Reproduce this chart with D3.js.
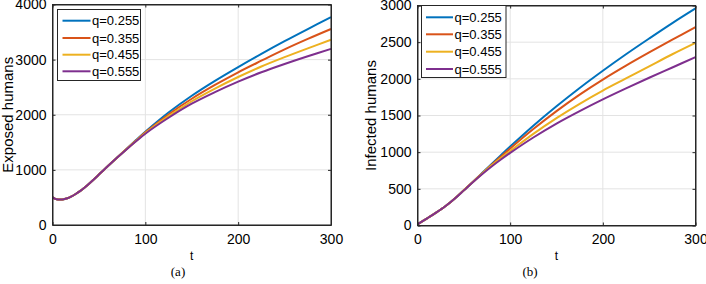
<!DOCTYPE html>
<html><head><meta charset="utf-8">
<script src="https://cdn.jsdelivr.net/npm/d3@7"></script>
<style>body{margin:0;background:#fff}svg{display:block}</style>
</head><body>
<svg id="c" width="706" height="284"></svg>
<script>
// ---- data ----
const seriesLabels = ["q=0.255", "q=0.355", "q=0.455", "q=0.555"];
const colors = ["#0072BD", "#D95319", "#EDB120", "#7E2F8E"];

const tExposed = [0, 3, 6, 9, 12, 16, 20, 25, 30, 35, 40, 45, 50, 55, 60, 70, 80, 90, 100, 125, 150, 175, 200, 225, 250, 275, 300];
const exposedQ255 = [500, 474, 463, 462, 468, 486, 515, 562, 618, 684, 757, 835, 915, 995, 1073, 1228, 1385, 1540, 1692, 2040, 2345, 2615, 2865, 3105, 3335, 3555, 3770];
const exposedQ355 = [500, 474, 463, 462, 468, 486, 515, 562, 618, 684, 757, 835, 915, 995, 1073, 1228, 1382, 1533, 1680, 2005, 2290, 2540, 2770, 2980, 3185, 3375, 3555];
const exposedQ455 = [500, 474, 463, 462, 468, 486, 515, 562, 618, 684, 757, 835, 915, 995, 1073, 1228, 1379, 1526, 1668, 1975, 2245, 2475, 2685, 2875, 3045, 3205, 3360];
const exposedQ555 = [500, 474, 463, 462, 468, 486, 515, 562, 618, 684, 757, 835, 915, 995, 1073, 1228, 1376, 1519, 1656, 1945, 2200, 2410, 2600, 2770, 2920, 3060, 3195];

const tInfected = [0, 10, 20, 30, 40, 50, 60, 70, 80, 90, 100, 125, 150, 175, 200, 225, 250, 275, 300];
const infectedQ255 = [15, 95, 175, 262, 365, 480, 598, 718, 838, 958, 1076, 1360, 1625, 1875, 2110, 2335, 2550, 2760, 2960];
const infectedQ355 = [15, 95, 175, 262, 365, 480, 597, 714, 828, 940, 1050, 1315, 1560, 1785, 1990, 2180, 2360, 2535, 2705];
const infectedQ455 = [15, 95, 175, 262, 365, 480, 596, 710, 820, 920, 1015, 1250, 1465, 1660, 1840, 2005, 2170, 2335, 2490];
const infectedQ555 = [15, 95, 175, 262, 365, 479, 594, 703, 805, 900, 990, 1200, 1390, 1560, 1720, 1870, 2015, 2155, 2295];

const xTicks = [0, 100, 200, 300];
const yTicksExposed = [0, 1000, 2000, 3000, 4000];
const yTicksInfected = [0, 500, 1000, 1500, 2000, 2500, 3000];

// ---- drawing ----
const svg = d3.select("#c");
const AX = "#262626", GRID = "#e3e3e3";
const SANS = "'Liberation Sans', Arial, sans-serif";

function panel(o) {
  const g = svg.append("g");
  const x = d3.scaleLinear().domain([0, 300]).range([o.x0, o.x1]);
  const y = d3.scaleLinear().domain(o.ydom).range([o.y1, o.y0]);
  // grid
  g.selectAll(".gx").data(xTicks).enter().append("line")
    .attr("x1", d => x(d)).attr("x2", d => x(d)).attr("y1", o.y0).attr("y2", o.y1)
    .attr("stroke", GRID).attr("stroke-width", 1);
  g.selectAll(".gy").data(o.yticks).enter().append("line")
    .attr("x1", o.x0).attr("x2", o.x1).attr("y1", d => y(d)).attr("y2", d => y(d))
    .attr("stroke", GRID).attr("stroke-width", 1);
  // lines
  const line = d3.line().x(d => x(d[0])).y(d => y(d[1])).curve(d3.curveCatmullRom.alpha(0.5));
  o.series.forEach((s, i) => {
    g.append("path").datum(o.t.map((t, k) => [t, s[k]]))
      .attr("d", line).attr("fill", "none").attr("stroke", colors[i]).attr("stroke-width", 2);
  });
  // axes (box with inward ticks)
  const bottom = g.append("g").attr("transform", `translate(0,${o.y1})`)
    .call(d3.axisBottom(x).tickValues(xTicks).tickSizeInner(-3).tickSizeOuter(0).tickPadding(9));
  const top = g.append("g").attr("transform", `translate(0,${o.y0})`)
    .call(d3.axisTop(x).tickValues(xTicks).tickSizeInner(-3).tickSizeOuter(0).tickFormat(""));
  const left = g.append("g").attr("transform", `translate(${o.x0},0)`)
    .call(d3.axisLeft(y).tickValues(o.yticks).tickSizeInner(-3).tickSizeOuter(0).tickPadding(6).tickFormat(d3.format("d")));
  const right = g.append("g").attr("transform", `translate(${o.x1},0)`)
    .call(d3.axisRight(y).tickValues(o.yticks).tickSizeInner(-3).tickSizeOuter(0).tickFormat(""));
  [bottom, top, left, right].forEach(a => {
    a.selectAll("path").attr("stroke", AX);
    a.selectAll("line").attr("stroke", AX);
    a.selectAll("text").attr("fill", "#000").style("font-family", SANS).style("font-size", "14px");
  });
  // box outline
  g.append("rect").attr("x", o.x0).attr("y", o.y0).attr("width", o.x1 - o.x0).attr("height", o.y1 - o.y0)
    .attr("fill", "none").attr("stroke", AX).attr("stroke-width", 1);
  // labels
  g.append("text").attr("x", (o.x0 + o.x1) / 2).attr("y", 260).attr("text-anchor", "middle")
    .style("font-family", SANS).style("font-size", "12px").text("t");
  g.append("text").attr("transform", `translate(${o.ylabX},${(o.y0 + o.y1) / 2}) rotate(-90)`)
    .attr("text-anchor", "middle")
    .style("font-family", SANS).style("font-size", "15px").text(o.ylabel);
  g.append("text").attr("x", o.capX).attr("y", 276).attr("text-anchor", "middle")
    .style("font-family", "'Liberation Serif', 'Times New Roman', serif").style("font-size", "13px").text(o.caption);
  // legend
  const L = o.leg;
  g.append("rect").attr("x", L.x).attr("y", L.y).attr("width", L.w).attr("height", L.h)
    .attr("fill", "#fff").attr("stroke", AX).attr("stroke-width", 1);
  seriesLabels.forEach((lab, i) => {
    const yy = L.rows[i];
    g.append("line").attr("x1", L.lx0).attr("x2", L.lx1).attr("y1", yy).attr("y2", yy)
      .attr("stroke", colors[i]).attr("stroke-width", 2);
    g.append("text").attr("x", L.lx1 + 1.5).attr("y", yy + 4.5)
      .style("font-family", SANS).style("font-size", "13px").text(lab);
  });
}

panel({
  x0: 52.5, x1: 331, y0: 4.5, y1: 225, ydom: [0, 4000], yticks: yTicksExposed,
  t: tExposed, series: [exposedQ255, exposedQ355, exposedQ455, exposedQ555],
  ylabel: "Exposed humans", ylabX: 13, caption: "(a)", capX: 178,
  leg: { x: 57.5, y: 9.5, w: 83, h: 71, lx0: 62.5, lx1: 90.5, rows: [20.7, 38, 54.7, 71.3] }
});
panel({
  x0: 417.5, x1: 695.5, y0: 5.5, y1: 225.5, ydom: [0, 3000], yticks: yTicksInfected,
  t: tInfected, series: [infectedQ255, infectedQ355, infectedQ455, infectedQ555],
  ylabel: "Infected humans", ylabX: 376, caption: "(b)", capX: 530,
  leg: { x: 421.5, y: 5.5, w: 84.5, h: 72, lx0: 426, lx1: 453, rows: [17.3, 34.3, 51.7, 69] }
});
</script>
</body></html>
